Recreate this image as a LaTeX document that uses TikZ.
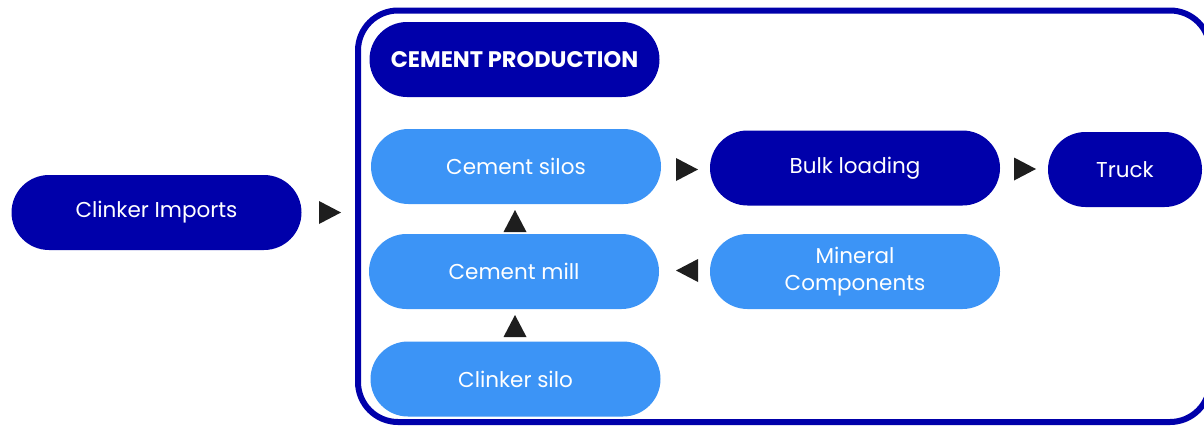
\documentclass[tikz,border=0pt]{standalone}
\usepackage{fontspec}
\setmainfont{Poppins}
\usetikzlibrary{shapes.misc}
\definecolor{darkblue}{RGB}{0,0,170}
\definecolor{lightblue}{RGB}{60,148,246}
\definecolor{arrowgray}{RGB}{30,30,30}

\begin{document}
\begin{tikzpicture}[x=1pt, y=-1pt,
    pill/.style={rounded rectangle, minimum height=75pt, minimum width=290pt, inner sep=0pt,
      text=white, align=center, font=\fontsize{21.5}{27}\selectfont},
    dark/.style={pill, fill=darkblue},
    light/.style={pill, fill=lightblue}]
  \useasboundingbox (0,0) rectangle (1204,429);
  \draw[darkblue, line width=6pt, rounded corners=40pt] (358,10.5) rectangle (1210,422);
  \node[dark] (imports) at (156.5,212.5) {Clinker Imports};
  \node[dark, font=\fontsize{22.5}{27}\selectfont\bfseries] (title) at (514.5,59.5) {CEMENT PRODUCTION};
  \node[light] (silos) at (516,166.5) {Cement silos};
  \node[dark] (bulk) at (855,168) {Bulk loading};
  \node[dark, minimum width=154pt] (truck) at (1125,169.5) {Truck};
  \node[light] (mill) at (514,271.5) {Cement mill};
  \node[light] (mineral) at (855,271.5) {Mineral\\Components};
  \node[light] (clinker) at (515.5,379) {Clinker silo};
  % flow marks
  \foreach \x/\y/\a in {330/212.5/0, 687/169.5/0, 1025/169/0, 687/270.5/180, 515/221/90, 515/326/90}
  {
    \fill[arrowgray, shift={(\x,\y)}, rotate=\a] (-11,-11.5) -- (11,0) -- (-11,11.5) -- cycle;
  }
\end{tikzpicture}
\end{document}
